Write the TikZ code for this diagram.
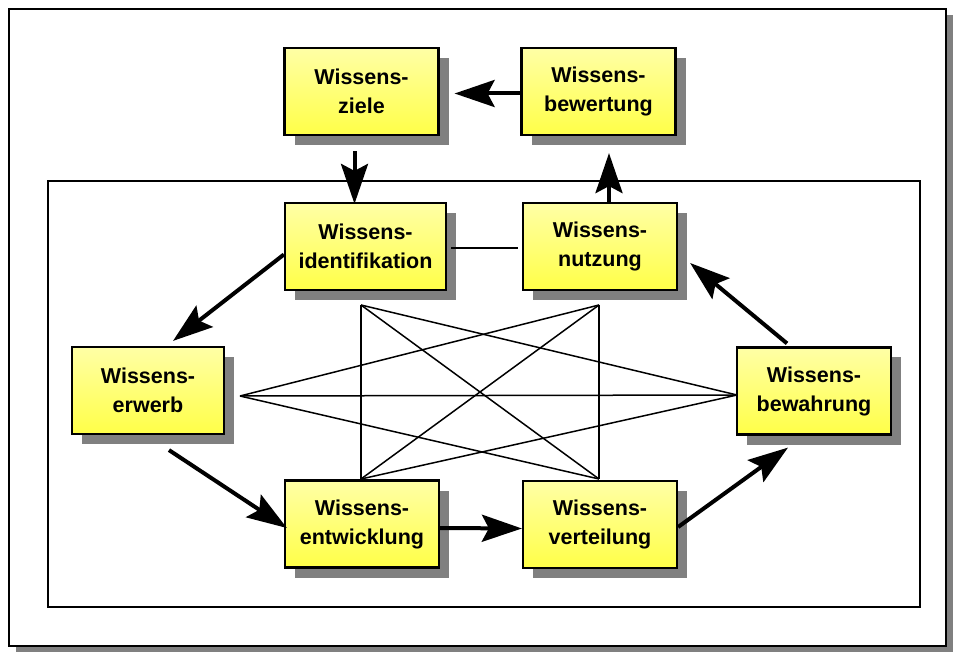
\documentclass[tikz,border=0pt]{standalone}
\usepackage{fontspec}
\setmainfont{Liberation Sans}
\usetikzlibrary{arrows.meta,shadows,calc}
\begin{document}
\begin{tikzpicture}[x=1pt,y=-1pt,
  phase/.style={draw=black, line width=2.2pt, top color=yellow!35, bottom color=yellow!72,
    minimum width=154pt, minimum height=87pt, inner sep=0pt, align=center,
    font=\fontsize{21.5}{29}\selectfont\bfseries,
    drop shadow={shadow xshift=10pt, shadow yshift=-10pt, fill=black!50, opacity=1}},
  flow/.style={line width=4pt, -{Stealth[length=40pt,width=27pt,inset=7pt]}},
  web/.style={line width=1.5pt},
  frame/.style={draw=black, fill=white, line width=2pt,
    drop shadow={shadow xshift=7pt, shadow yshift=-6pt, fill=black!50, opacity=1}},
]
\useasboundingbox (0,0) rectangle (956,652);

% outer and inner frames
\path[frame] (9,9) rectangle (946,646);
\draw[line width=1.5pt] (48,181) rectangle (920,607);

% the eight building blocks
\node[phase] (ziele)       at (361.5,91.5) {Wissens-\\ziele};
\node[phase] (bewertung)   at (598.5,91.5) {Wissens-\\bewertung};
\node[phase, minimum width=161pt] (ident) at (365.5,246.5) {Wissens-\\identifikation};
\node[phase] (nutzung)     at (600,246.5)  {Wissens-\\nutzung};
\node[phase, minimum width=152pt] (erwerb) at (148,390.5) {Wissens-\\erwerb};
\node[phase] (bewahrung)   at (814,391)    {Wissens-\\bewahrung};
\node[phase] (entwicklung) at (362,524)    {Wissens-\\entwicklung};
\node[phase] (verteilung)  at (600,524.5)  {Wissens-\\verteilung};

% interconnection web in the middle
\coordinate (tl) at (361,305);
\coordinate (tr) at (599,305);
\coordinate (bl) at (361,479);
\coordinate (br) at (599,479);
\coordinate (lp) at (240,396);
\coordinate (rp) at (737,395);
\draw[web] (tl) -- (bl);
\draw[web] (tr) -- (br);
\draw[web] (tl) -- (br);
\draw[web] (tr) -- (bl);
\draw[web] (tl) -- (rp);
\draw[web] (tr) -- (lp);
\draw[web] (lp) -- (rp);
\draw[web] (lp) -- (br);
\draw[web] (rp) -- (bl);

% link between identification and use
\draw[line width=1.5pt] ([xshift=4pt,yshift=-1.5pt]ident.east) -- ([xshift=-4pt,yshift=-1.5pt]nutzung.west);

% cycle arrows
\draw[flow] ([yshift=-2pt]bewertung.west) -- ([xshift=15pt,yshift=-2pt]ziele.east);
\draw[flow] ([xshift=-7pt,yshift=-15pt]ziele.south) -- ([xshift=-7pt,yshift=-2pt]ziele.south |- ident.north);
\draw[flow] ([xshift=9pt]nutzung.north) -- ([xshift=9pt,yshift=-17pt]nutzung.north |- bewertung.south);
\draw[flow] ([yshift=-8pt]ident.west) -- ([xshift=25pt,yshift=5pt]erwerb.north);
\draw[flow] ([xshift=21pt,yshift=-15pt]erwerb.south) -- ([xshift=3pt,yshift=-4pt]entwicklung.west);
\draw[flow] ([yshift=-4pt]entwicklung.east) -- ([yshift=-4pt]verteilung.west);
\draw[flow] ([yshift=-2.5pt]verteilung.east) -- ([xshift=-26pt,yshift=-12pt]bewahrung.south);
\draw[flow] ([xshift=-27pt,yshift=3pt]bewahrung.north) -- ([xshift=12pt,yshift=-16.5pt]nutzung.east);
\end{tikzpicture}
\end{document}
